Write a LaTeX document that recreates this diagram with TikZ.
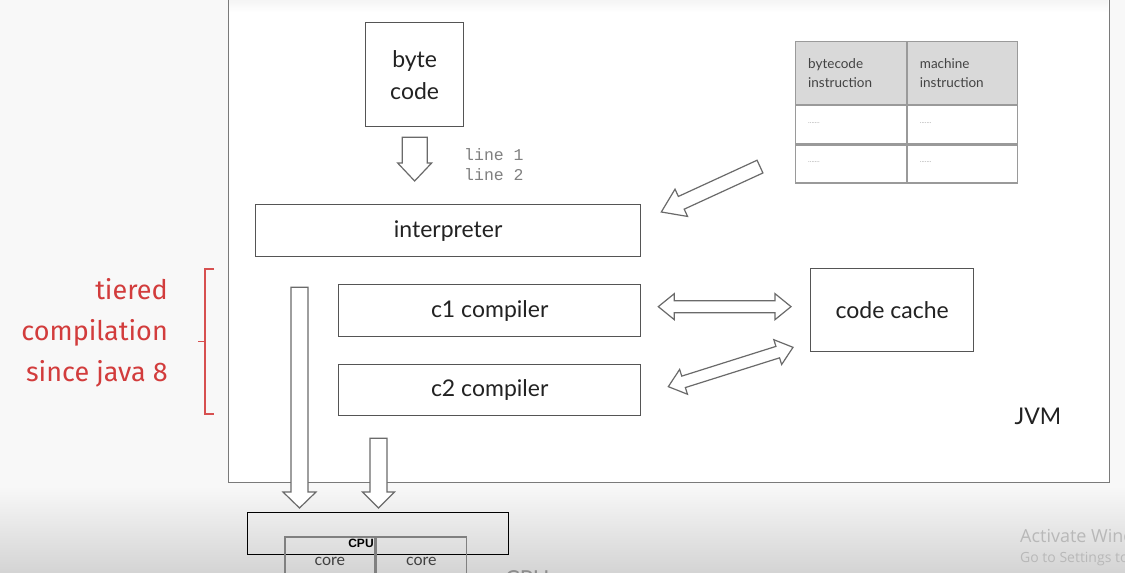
\documentclass[tikz,border=0pt]{standalone}
\usepackage{fontspec}
\setmainfont{Lato}
\newfontfamily\handf{Fira Sans}
\newfontfamily\monof{Liberation Mono}
\newfontfamily\arialf{Liberation Sans}
\newfontfamily\winf{Open Sans}
\usetikzlibrary{calc}
\definecolor{boxline}{HTML}{555555}
\definecolor{jvmline}{HTML}{7A7A7A}
\definecolor{arrline}{HTML}{6A6A6A}
\definecolor{redtxt}{HTML}{D23C3C}
\definecolor{hdr}{HTML}{D9D9D9}
\definecolor{tabline}{HTML}{9A9A9A}
\definecolor{txt}{HTML}{222222}
\definecolor{bgpage}{HTML}{F8F8F8}
\tikzset{
  box/.style={draw=boxline, line width=1.3pt, fill=white, inner sep=0pt, anchor=north west,
    text=txt, font=\fontsize{23}{32}\selectfont, align=center},
  cell/.style={draw=tabline, line width=1.2pt, inner sep=0pt, anchor=north west, minimum width=110.5pt},
  tabtxt/.style={anchor=west, align=left, inner sep=0pt, text=txt!85, font=\fontsize{13.5}{19}\selectfont},
  dotstxt/.style={anchor=west, inner sep=0pt, text=gray!70, font=\fontsize{7}{8}\selectfont},
  blockarrow/.style={draw=arrline, line width=1.2pt, fill=white},
  redline/.style={draw=redtxt!90, line width=1.4pt},
}
\newcommand\hollowarrow[5]{%
  \coordinate (hH) at ($(#2)!#5!(#1)$);
  \draw[blockarrow] ($(#1)!#3!90:(#2)$) -- ($(hH)!#3!90:(#2)$) -- ($(hH)!#4!90:(#2)$) -- (#2)
    -- ($(hH)!#4!-90:(#2)$) -- ($(hH)!#3!-90:(#2)$) -- ($(#1)!#3!-90:(#2)$) -- cycle;}
\newcommand\twowayarrow[5]{%
  \coordinate (dHa) at ($(#1)!#5!(#2)$);
  \coordinate (dHb) at ($(#2)!#5!(#1)$);
  \draw[blockarrow] (#1) -- ($(dHa)!#4!90:(#2)$) -- ($(dHa)!#3!90:(#2)$) -- ($(dHb)!#3!90:(#2)$)
    -- ($(dHb)!#4!90:(#2)$) -- (#2) -- ($(dHb)!#4!-90:(#2)$) -- ($(dHb)!#3!-90:(#2)$)
    -- ($(dHa)!#3!-90:(#2)$) -- ($(dHa)!#4!-90:(#2)$) -- cycle;}
\begin{document}
\begin{tikzpicture}[x=1pt,y=-1pt]
\useasboundingbox (0,0) rectangle (1125,573);
\clip (0,0) rectangle (1125,573);
% page background
\fill[bgpage] (0,0) rectangle (1125,573);
\fill[top color=bgpage, bottom color=black!17] (0,486) rectangle (1125,573);
% JVM frame
\node[draw=jvmline, line width=1.3pt, fill=white, anchor=north west, minimum width=881pt,
  minimum height=489pt, inner sep=0pt] (jvm) at (228,-7) {};
\fill[top color=black!6, bottom color=white] (229,-6) rectangle (1108,12);
\node[text=txt, font=\fontsize{23}{28}\selectfont] (jvmlabel) at (1038,416) {JVM};
% main boxes
\node[box, minimum width=98pt, minimum height=104pt] (bytecode) at (365,22) {byte\\code};
\node[box, minimum width=385pt, minimum height=52pt] (interp) at (255,204) {interpreter};
\node[box, minimum width=302pt, minimum height=52pt] (c1) at (338,284) {c1 compiler};
\node[box, minimum width=302pt, minimum height=51pt] (c2) at (338,364) {c2 compiler};
\node[box, minimum width=163pt, minimum height=83pt] (cache) at (810,268) {code cache};
% line 1 / line 2
\node[anchor=west, align=left, inner sep=0pt, text=black!50, font=\monof\fontsize{16.5}{20}\selectfont]
  (lines) at (464,165) {line 1\\line 2};
% table
\node[cell, fill=hdr, minimum height=63pt] (h1) at (795,41) {};
\node[cell, fill=hdr, minimum height=63pt] (h2) at (h1.north east) {};
\node[cell, minimum height=38pt] (r11) at (h1.south west) {};
\node[cell, minimum height=38pt] (r12) at (h2.south west) {};
\node[cell, minimum height=38pt] (r21) at (r11.south west) {};
\node[cell, minimum height=38pt] (r22) at (r12.south west) {};
\node[tabtxt] (t1) at ($(h1.west)+(13,0)$) {bytecode\\instruction};
\node[tabtxt] (t2) at ($(h2.west)+(13,0)$) {machine\\instruction};
\node[dotstxt] (d11) at ($(r11.west)+(13,-2)$) {.......};
\node[dotstxt] (d12) at ($(r12.west)+(13,-2)$) {.......};
\node[dotstxt] (d21) at ($(r21.west)+(13,-2)$) {.......};
\node[dotstxt] (d22) at ($(r22.west)+(13,-2)$) {.......};
% CPU
\node[draw=black, line width=0.8pt, anchor=north west, minimum width=261pt, minimum height=42pt,
  inner sep=0pt] (cpu) at (247,512) {};
\node[draw=black!50, line width=1.6pt, anchor=north west, minimum width=90pt, minimum height=50pt,
  inner sep=0pt] (core1) at (284,536) {};
\node[draw=black!50, line width=1.6pt, anchor=north west, minimum width=90pt, minimum height=50pt,
  inner sep=0pt] (core2) at (core1.north east) {};
\node[text=black!75, font=\fontsize{16}{18}\selectfont] (core1t) at ($(core1.north)+(0,25)$) {core};
\node[text=black!75, font=\fontsize{16}{18}\selectfont] (core2t) at ($(core2.north)+(0,25)$) {core};
\node[font=\arialf\bfseries\fontsize{12}{14}\selectfont, text=black, inner sep=0pt] (cputxt) at (361,543) {CPU};
\node[font=\fontsize{22}{24}\selectfont, text=black!45, anchor=north west, inner sep=0pt] (cpu2) at (505,570) {CPU};
% arrows
\coordinate (a1s) at ($(bytecode.south)+(0,10)$);
\coordinate (a1e) at ($(interp.north -| bytecode.south)+(0,-23)$);
\hollowarrow{a1s}{a1e}{12.5pt}{17pt}{18pt}
\coordinate (a2s) at ($(r21.south west)+(-35,-17)$);
\coordinate (a2e) at ($(interp.north east)+(20,8)$);
\hollowarrow{a2s}{a2e}{7pt}{15pt}{22pt}
\coordinate (a3s) at ($(c1.east)+(17,-4)$);
\coordinate (a3e) at ($(cache.west)+(-19,-3.5)$);
\twowayarrow{a3s}{a3e}{6pt}{13pt}{16pt}
\coordinate (a4s) at ($(c2.east)+(27,-3.5)$);
\coordinate (a4e) at ($(cache.south west)+(-17,-5)$);
\twowayarrow{a4s}{a4e}{6pt}{13pt}{16pt}
\coordinate (a5s) at ($(interp.south west)+(44.5,30)$);
\coordinate (a5e) at ($(a5s |- cpu.north)+(0,-4)$);
\hollowarrow{a5s}{a5e}{8.5pt}{16.5pt}{16pt}
\coordinate (a6s) at ($(c2.south west)+(40.5,22)$);
\coordinate (a6e) at ($(a6s |- cpu.north)+(0,-4)$);
\hollowarrow{a6s}{a6e}{8.5pt}{16pt}{16pt}
% tiered compilation
\node[anchor=east, align=right, inner sep=0pt, text=redtxt, font=\handf\fontsize{27}{41}\selectfont]
  (tiered) at (168,333) {tiered\\compilation\\since java 8};
\coordinate (bt) at (214,269);
\coordinate (bb) at (214,414);
\draw[redline] (bt) -- ++(-9,0) -- ($(bb)+(-9,0)$) -- (bb);
\draw[redline] ($(bt)!0.5!(bb)+(-9,0)$) -- ++(-7,0);
% watermark
\node[anchor=west, inner sep=0pt, text=black!28, font=\winf\fontsize{18}{20}\selectfont] (act1) at (1020,536) {Activate Windows};
\node[anchor=west, inner sep=0pt, text=black!28, font=\winf\fontsize{14}{16}\selectfont] (act2) at (1020,559) {Go to Settings to activate Windows.};
\end{tikzpicture}
\end{document}
